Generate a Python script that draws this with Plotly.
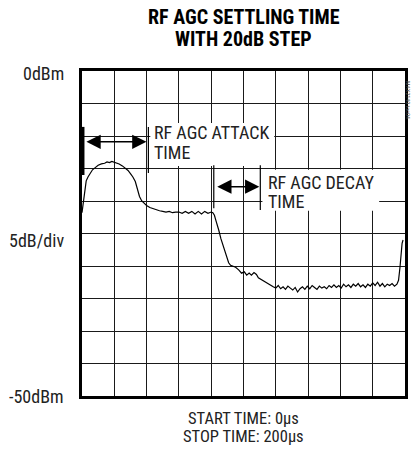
import plotly.graph_objects as go

# ---- data (time in µs, level in dBm) ----
time_us = [0, 0.6, 1.2, 1.8, 2.6, 3.7, 5, 6.5, 8, 10, 12, 14, 15.5, 17, 18.5, 20, 21.5, 23, 25, 27,
           28.5, 30, 31.5, 33, 34.5, 35.6, 37, 38.5, 40, 42, 44, 46, 48, 50, 52, 54, 56, 58, 60, 62,
           64, 66, 68, 70, 72, 74, 76, 78, 80, 81,
           82, 82.8, 83.8, 84.7, 86, 87.7, 89, 90.8, 92, 93.5, 95.1, 97, 98.8, 100.5, 102, 103.5,
           104.9, 106.5, 108, 109.2, 110.5, 112, 113.5, 115, 116.5, 118.4,
           120, 121.5, 123, 124.5, 126, 127.5, 129, 130.5, 132, 133.5, 135, 136.5, 138, 139.5, 141,
           142.5, 144, 145.5, 147, 148.5, 150, 151.5, 153, 154.5, 156, 157.5, 159, 160.5, 162, 163.5,
           165, 166.5, 168, 169.5, 171, 172.5, 174, 175.5, 177, 178.5, 180, 181.5, 183, 184.5, 186,
           187.5, 189, 190.5, 192, 193.5, 195, 196, 196.9, 197.6, 198.2, 198.8]
level_dbm = [-21.8, -20.5, -19.0, -17.8, -16.9, -16.3, -15.7, -15.2, -14.9, -14.5, -14.3, -14.2, -14.0,
             -14.1, -13.9, -14.0, -14.1, -14.3, -14.6, -15.0, -15.3, -15.8, -16.3, -17.0, -18.2, -19.3,
             -20.0, -20.4, -20.7, -21.0, -21.2, -21.3, -21.5, -21.6, -21.7, -21.6, -21.8, -21.7, -21.7,
             -21.9, -21.6, -21.9, -21.6, -22.0, -21.6, -22.0, -21.6, -21.9, -21.7, -21.8,
             -22.2, -22.9, -23.6, -24.5, -25.8, -27.1, -28.3, -29.5, -29.9, -30.0, -30.2, -30.6, -31.1,
             -30.9, -31.4, -31.1, -31.4, -31.0, -31.3, -31.8, -32.0, -32.3, -32.5, -32.7, -33.0, -33.2,
             -33.4, -33.0, -33.5, -33.2, -33.6, -33.1, -33.4, -33.7, -33.3, -34.0, -33.5, -33.2, -33.6,
             -33.1, -33.5, -33.0, -33.3, -33.6, -33.1, -33.4, -33.2, -33.5, -33.0, -33.3, -32.9, -33.3,
             -33.0, -33.4, -32.8, -33.2, -32.9, -33.3, -32.8, -33.1, -32.7, -33.2, -32.9, -33.3, -32.8,
             -33.1, -32.6, -33.0, -32.5, -33.1, -32.7, -33.2, -32.8, -33.0, -32.7, -33.1, -32.8, -32.2,
             -30.2, -28.0, -26.5, -26.0]

title_lines = ["RF AGC SETTLING TIME", "WITH 20dB STEP"]
y_labels = ["0dBm", "5dB/div", "-50dBm"]
footer_lines = ["START TIME: 0\u00b5s", "STOP TIME: 200\u00b5s"]
attack_text = ["RF AGC ATTACK", "TIME"]
decay_text = ["RF AGC DECAY", "TIME"]
# annotation positions (µs, dBm)
attack_span = [0.6, 41.1]
decay_span = [81.6, 110.4]

FONT = "Liberation Sans Narrow, Roboto Condensed, DejaVu Sans Condensed, Arial Narrow, sans-serif"

fig = go.Figure()
fig.add_trace(go.Scatter(x=time_us, y=level_dbm, mode="lines",
                         line=dict(color="black", width=1.2), hoverinfo="skip"))

W, H = 417, 452
L, R, T, B = 82, 9, 71, 56

ax_common = dict(showline=True, linecolor="black", linewidth=3, mirror=True,
                 showgrid=True, gridcolor="#1a1a1a", gridwidth=1,
                 zeroline=False, showticklabels=False, ticks="")
fig.update_xaxes(range=[0, 200], dtick=20, tick0=0, **ax_common)
fig.update_yaxes(range=[-50, 0], dtick=5, tick0=0, **ax_common)

shapes = []
# white boxes behind annotation text (hide grid)
shapes.append(dict(type="rect", xref="x", yref="y", x0=42.3, x1=119, y0=-14.6, y1=-8.0,
                   fillcolor="white", line=dict(width=0), layer="above"))
shapes.append(dict(type="rect", xref="x", yref="y", x0=111.7, x1=184.0, y0=-21.5, y1=-15.2,
                   fillcolor="white", line=dict(width=0), layer="above"))
# attack bars
shapes.append(dict(type="line", xref="x", yref="y", x0=attack_span[0], x1=attack_span[0],
                   y0=-8.6, y1=-16.0, line=dict(color="black", width=3), layer="above"))
shapes.append(dict(type="line", xref="x", yref="y", x0=attack_span[1], x1=attack_span[1],
                   y0=-8.6, y1=-15.7, line=dict(color="black", width=1.2), layer="above"))
# decay bars
shapes.append(dict(type="line", xref="x", yref="y", x0=decay_span[0], x1=decay_span[0],
                   y0=-14.5, y1=-21.1, line=dict(color="black", width=1.2), layer="above"))
shapes.append(dict(type="line", xref="x", yref="y", x0=decay_span[1], x1=decay_span[1],
                   y0=-14.5, y1=-21.4, line=dict(color="black", width=1.2), layer="above"))
fig.update_layout(shapes=shapes)

ann = []
# double arrows
for (xa, xb, yv) in [(1.8, 39.9, -10.9), (82.8, 109.8, -17.8)]:
    ann.append(dict(x=xb, y=yv, ax=xa, ay=yv, xref="x", yref="y", axref="x", ayref="y",
                    text="", showarrow=True, arrowhead=2, arrowside="end+start",
                    arrowsize=1.9, arrowwidth=1.5, arrowcolor="black", standoff=0, startstandoff=0))
# annotation texts
txt_font = dict(family=FONT, size=18, color="#222")
ann.append(dict(x=43.6, y=-9.5, xref="x", yref="y", text=attack_text[0], showarrow=False,
                xanchor="left", yanchor="middle", font=txt_font))
ann.append(dict(x=43.6, y=-12.6, xref="x", yref="y", text=attack_text[1], showarrow=False,
                xanchor="left", yanchor="middle", font=txt_font))
ann.append(dict(x=114.1, y=-17.1, xref="x", yref="y", text=decay_text[0], showarrow=False,
                xanchor="left", yanchor="middle", font=txt_font))
ann.append(dict(x=114.1, y=-20.0, xref="x", yref="y", text=decay_text[1], showarrow=False,
                xanchor="left", yanchor="middle", font=txt_font))


def px_x(p):
    return (p - L) / (W - L - R)


def px_y(p):
    return 1 - (p - T) / (H - T - B)


lab_font = dict(family=FONT, size=18, color="#222")
for lab, py in zip(y_labels, [73, 240, 396]):
    ann.append(dict(x=px_x(66), y=px_y(py), xref="paper", yref="paper", text=lab,
                    showarrow=False, xanchor="right", yanchor="middle", font=lab_font))
foot_font = dict(family=FONT, size=16.5, color="#222")
for line, py in zip(footer_lines, [418, 437]):
    ann.append(dict(x=px_x(245), y=px_y(py), xref="paper", yref="paper", text=line,
                    showarrow=False, xanchor="center", yanchor="middle", font=foot_font))
for line, py in zip(title_lines, [17, 39]):
    ann.append(dict(x=px_x(245), y=px_y(py), xref="paper", yref="paper", text="<b>" + line + "</b>",
                    showarrow=False, xanchor="center", yanchor="middle",
                    font=dict(family=FONT, size=20, color="black")))
ann.append(dict(x=px_x(412), y=px_y(100), xref="paper", yref="paper", text="MAX2140 toc04",
                showarrow=False, xanchor="center", yanchor="middle", textangle=90,
                font=dict(family=FONT, size=6, color="#555")))
fig.update_layout(annotations=ann)

fig.update_layout(width=W, height=H, margin=dict(l=L, r=R, t=T, b=B),
                  plot_bgcolor="white", paper_bgcolor="white", showlegend=False)
fig.write_html("out.html", config={"displayModeBar": False},
               post_script="document.body.style.margin='0px';")
